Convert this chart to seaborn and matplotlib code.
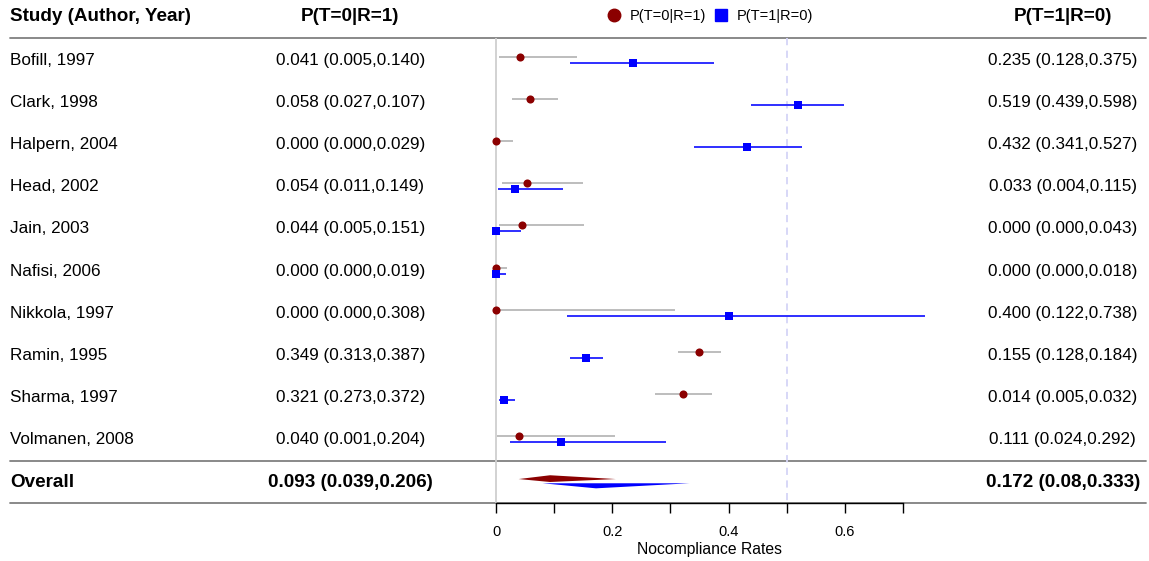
# Forest plot of nocompliance rates, two series per study
import numpy as np
import matplotlib
matplotlib.use("Agg")
import matplotlib.pyplot as plt
import matplotlib.transforms as mtrans
import seaborn as sns
from matplotlib.lines import Line2D
from matplotlib.patches import Polygon

studies = ["Bofill, 1997", "Clark, 1998", "Halpern, 2004", "Head, 2002", "Jain, 2003",
           "Nafisi, 2006", "Nikkola, 1997", "Ramin, 1995", "Sharma, 1997", "Volmanen, 2008"]

# P(T=0|R=1): estimate, lower, upper
p01 = [0.041, 0.058, 0.000, 0.054, 0.044, 0.000, 0.000, 0.349, 0.321, 0.040]
p01_lo = [0.005, 0.027, 0.000, 0.011, 0.005, 0.000, 0.000, 0.313, 0.273, 0.001]
p01_hi = [0.140, 0.107, 0.029, 0.149, 0.151, 0.019, 0.308, 0.387, 0.372, 0.204]

# P(T=1|R=0): estimate, lower, upper
p10 = [0.235, 0.519, 0.432, 0.033, 0.000, 0.000, 0.400, 0.155, 0.014, 0.111]
p10_lo = [0.128, 0.439, 0.341, 0.004, 0.000, 0.000, 0.122, 0.128, 0.005, 0.024]
p10_hi = [0.375, 0.598, 0.527, 0.115, 0.043, 0.018, 0.738, 0.184, 0.032, 0.292]

overall_01 = [0.093, 0.039, 0.206]
overall_10 = [0.172, 0.08, 0.333]
overall_01_txt = "0.093 (0.039,0.206)"
overall_10_txt = "0.172 (0.08,0.333)"

xticks = [0, 0.1, 0.2, 0.3, 0.4, 0.5, 0.6, 0.7]
xticklabels = ["0", "", "0.2", "", "0.4", "", "0.6", ""]

RED = "#8b0000"
BLUE = "#0000ff"

sns.set_style("white")
plt.rcParams["font.family"] = ["Liberation Sans", "DejaVu Sans"]
plt.rcParams["text.color"] = "black"
plt.rcParams["xtick.color"] = "black"
plt.rcParams["axes.labelcolor"] = "black"

fig = plt.figure(figsize=(11.49, 5.61), dpi=100)
ax = fig.add_axes([0, 0, 1, 1])
# x in data units (0 at the gray line), y in table rows
ax.set_xlim(-0.853, 1.123)
ax.set_ylim(11.872, -1.422)

n = len(studies)
rows = np.arange(n)
overall_row = n
top_line = -0.52
mid_line = n - 0.5
bot_line = n + 0.5

trans = mtrans.blended_transform_factory(ax.transAxes, ax.transData)

# separators
for yl in [top_line, mid_line, bot_line]:
    ax.axhline(yl, xmin=0.009, xmax=0.997, color="#808080", lw=1.3, zorder=1)

# reference lines
ax.vlines(0, top_line, bot_line, color="#cfcfcf", lw=1.3, zorder=1)
ax.vlines(0.5, top_line, bot_line, color="#d4d4f7", lw=1.3, linestyle=(0, (4, 3)), zorder=1)

# confidence intervals
ax.hlines(rows - 0.08, p01_lo, p01_hi, color="#bdbdbd", lw=1.4, zorder=2)
ax.hlines(rows + 0.06, p10_lo, p10_hi, color="#2f2fff", lw=1.4, zorder=2)

# point estimates
sns.scatterplot(x=p01, y=rows - 0.08, marker="o", color=RED, s=34, linewidth=0, ax=ax, zorder=3)
sns.scatterplot(x=p10, y=rows + 0.06, marker="s", color=BLUE, s=30, linewidth=0, ax=ax, zorder=3)

# overall diamonds
e, lo, hi = overall_01
ax.add_patch(Polygon([[lo, overall_row - 0.07], [e, overall_row - 0.16],
                      [hi, overall_row - 0.07], [e, overall_row + 0.0]],
                     closed=True, color=RED, lw=0, zorder=3))
e, lo, hi = overall_10
ax.add_patch(Polygon([[lo, overall_row + 0.03], [hi, overall_row + 0.03],
                      [e, overall_row + 0.15]],
                     closed=True, color=BLUE, lw=0, zorder=3))

# table text
ax.text(0.0087, -1.02, "Study (Author, Year)", transform=trans, ha="left", va="center",
        fontsize=13.6, fontweight="bold")
ax.text(0.305, -1.02, "P(T=0|R=1)", transform=trans, ha="center", va="center",
        fontsize=13.6, fontweight="bold")
ax.text(0.925, -1.02, "P(T=1|R=0)", transform=trans, ha="center", va="center",
        fontsize=13.6, fontweight="bold")

for i in range(n):
    ax.text(0.0087, rows[i], studies[i], transform=trans, ha="left", va="center", fontsize=12.3)
    ax.text(0.305, rows[i], "{:.3f} ({:.3f},{:.3f})".format(p01[i], p01_lo[i], p01_hi[i]),
            transform=trans, ha="center", va="center", fontsize=12.3)
    ax.text(0.925, rows[i], "{:.3f} ({:.3f},{:.3f})".format(p10[i], p10_lo[i], p10_hi[i]),
            transform=trans, ha="center", va="center", fontsize=12.3)

ax.text(0.0087, overall_row, "Overall", transform=trans, ha="left", va="center",
        fontsize=13.6, fontweight="bold")
ax.text(0.305, overall_row, overall_01_txt, transform=trans, ha="center", va="center",
        fontsize=13.6, fontweight="bold")
ax.text(0.925, overall_row, overall_10_txt, transform=trans, ha="center", va="center",
        fontsize=13.6, fontweight="bold")

# x axis
for s in ["top", "left", "right"]:
    ax.spines[s].set_visible(False)
ax.spines["bottom"].set_position(("data", bot_line))
ax.spines["bottom"].set_bounds(0, 0.7)
ax.spines["bottom"].set_color("black")
ax.spines["bottom"].set_linewidth(1.0)
ax.set_xticks(xticks)
ax.set_xticklabels(xticklabels)
ax.set_yticks([])
ax.tick_params(axis="x", bottom=True, length=7, width=1, pad=9, labelsize=10.5,
               color="black", labelcolor="black")
ax.text(0.368, 11.59, "Nocompliance Rates", ha="center", va="center", fontsize=11.3)

# legend
handles = [Line2D([], [], marker="o", color=RED, ls="", ms=9),
           Line2D([], [], marker="s", color=BLUE, ls="", ms=8.5)]
fig.legend(handles, ["P(T=0|R=1)", "P(T=1|R=0)"], loc="center", bbox_to_anchor=(0.618, 0.971),
           ncol=2, frameon=False, fontsize=10.5, handletextpad=0.6, columnspacing=0.5,
           handlelength=1.0)

plt.savefig("out.png", dpi=100)
plt.close()
